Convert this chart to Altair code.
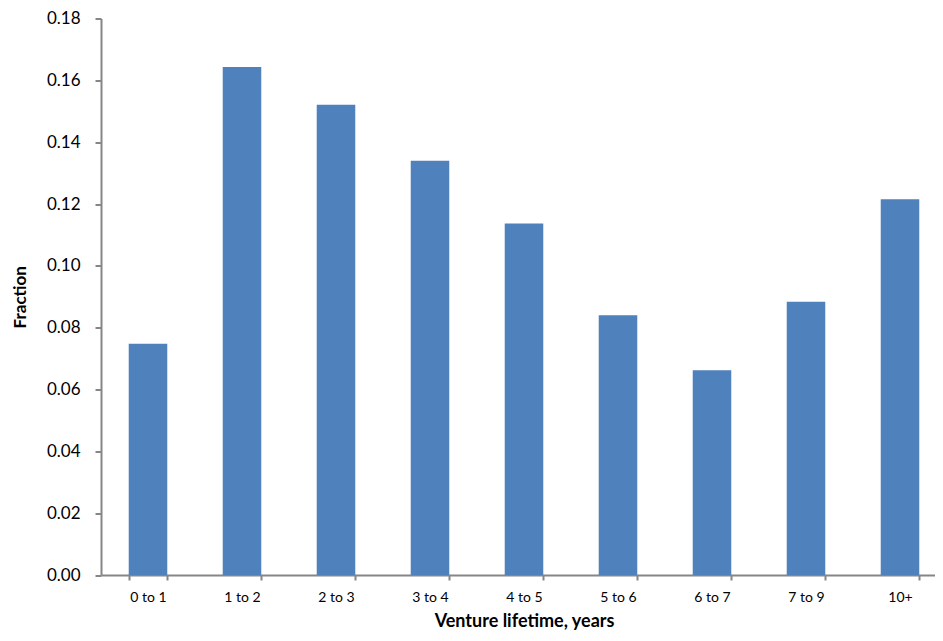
import altair as alt
import pandas as pd

categories = ["0 to 1", "1 to 2", "2 to 3", "3 to 4", "4 to 5", "5 to 6", "6 to 7", "7 to 9", "10+"]
fractions = [0.0748, 0.1643, 0.1521, 0.1340, 0.1137, 0.0840, 0.0662, 0.0884, 0.1215]

df = pd.DataFrame({"lifetime": categories, "fraction": fractions})

axis_color = "#868686"
font = "Lato"

chart = alt.Chart(df).mark_bar(color="#4F81BD").encode(
    x=alt.X("lifetime:N", sort=categories,
            scale=alt.Scale(paddingInner=0.59, paddingOuter=0.295, range=[0, 846]),
            axis=alt.Axis(title="Venture lifetime, years", labelAngle=0,
                          tickBand="extent", tickSize=5, tickColor=axis_color,
                          domainColor=axis_color, domainWidth=2, tickWidth=2,
                          labelFont=font, labelFontSize=14, labelColor="#000000",
                          labelPadding=10,
                          titleFont=font, titleFontSize=18, titleFontWeight="bold",
                          titleColor="#000000", titlePadding=8)),
    y=alt.Y("fraction:Q",
            scale=alt.Scale(domain=[0, 0.18], nice=False),
            axis=alt.Axis(title="Fraction", values=[0, 0.02, 0.04, 0.06, 0.08, 0.10, 0.12, 0.14, 0.16, 0.18],
                          format=".2f", grid=False, tickSize=6, tickColor=axis_color,
                          domainColor=axis_color, domainWidth=2, tickWidth=2,
                          labelFont=font, labelFontSize=17, labelColor="#000000",
                          labelPadding=15,
                          titleFont=font, titleFontSize=17, titleFontWeight="bold",
                          titleColor="#000000", titlePadding=17)),
).properties(
    width=834,
    height=556.5,
    autosize=alt.AutoSizeParams(type="none"),
    padding={"left": 93, "top": 10.5, "right": 0, "bottom": 58},
).configure_view(stroke=None)

chart.save("out.html", embed_options={"renderer": "svg", "actions": False})
